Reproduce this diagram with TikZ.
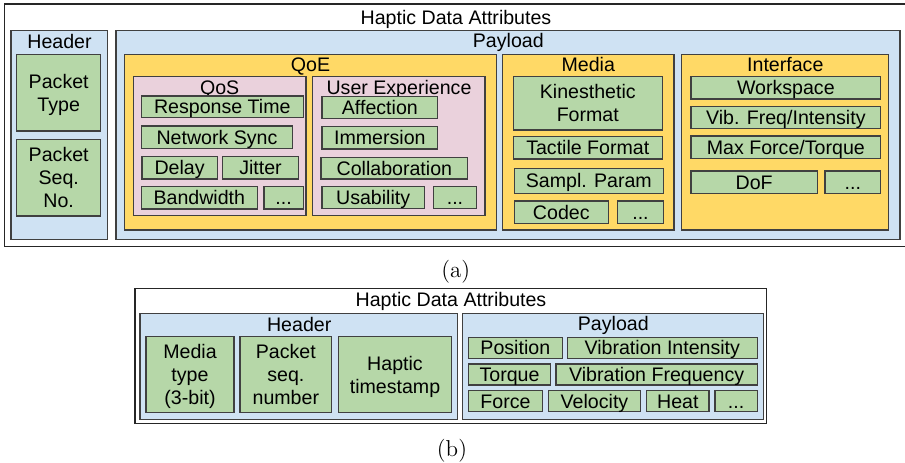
\documentclass[tikz,border=0pt]{standalone}
\usepackage{fontspec}
\newfontfamily\arialfont{Liberation Sans}
\definecolor{pktblue}{HTML}{CFE2F3}
\definecolor{grpyellow}{HTML}{FFD966}
\definecolor{subpink}{HTML}{EAD1DC}
\definecolor{itemgreen}{HTML}{B6D7A8}
\def\attrfont{\arialfont\fontsize{9.8pt}{11.5pt}\selectfont}

\begin{document}
\begin{tikzpicture}[x=0.5pt,y=-0.5pt,
    box/.style={draw=black!75,line width=0.6pt},
    outerbox/.style={draw=black!85,line width=0.6pt,fill=white},
    bluebox/.style={box,fill=pktblue},
    yelbox/.style={box,fill=grpyellow},
    pinkbox/.style={box,fill=subpink},
    item/.style={box,fill=itemgreen},
    % height = 7pt + (lines-1) x 11.5pt, so the caps block sits centred
    itemtext/.style={midway,font=\attrfont,align=center,text height=#1,text depth=0pt,inner sep=0pt},
    itemtext/.default=7pt,
    title/.style={font=\attrfont,anchor=base,inner sep=0pt},
    subcap/.style={font=\fontsize{11.5pt}{13pt}\selectfont,anchor=base,inner sep=0pt}]
    \useasboundingbox (0,0) rectangle (905,462);
    % (a) full attribute set
    \draw[outerbox] (4.5,4) rectangle (906,246.7);
    \node[title] (attrAtitle) at (456,24) {Haptic Data Attributes};
    \draw[bluebox] (11,30.7) rectangle (107.7,239.3);
    \node[title] (headerAtitle) at (59.5,48.3) {Header};
    \draw[item] (16.7,54.3) rectangle (100.7,131) node[itemtext=18.5pt] (ptype) {Packet\\Type};
    \draw[item] (16.7,139.3) rectangle (100.7,216) node[itemtext=30pt] (pseqA) {Packet\\Seq.\\No.};
    \draw[bluebox] (116,30.7) rectangle (900,239.3);
    \node[title] (payloadAtitle) at (508.3,47.5) {Payload};
    % QoE
    \draw[yelbox] (124.3,54.3) rectangle (496.7,230);
    \node[title] (qoetitle) at (310.5,71.3) {QoE};
    \draw[pinkbox] (133.3,76.7) rectangle (306,215.7);
    \node[title] (qostitle) at (219.7,94.3) {QoS};
    \draw[item] (141.3,96) rectangle (303.3,117.7) node[itemtext] (resptime) {Response Time};
    \draw[item] (141.3,126) rectangle (292.7,148.3) node[itemtext] (netsync) {Network Sync};
    \draw[item] (142,156.7) rectangle (217.3,179) node[itemtext] (delay) {Delay};
    \draw[item] (222.7,156.7) rectangle (298.3,179) node[itemtext] (jitter) {Jitter};
    \draw[item] (141.3,186.7) rectangle (257.3,209) node[itemtext] (bandwidth) {Bandwidth};
    \draw[item] (264,186.7) rectangle (303.3,209) node[itemtext] (qosmore) {...};
    \draw[pinkbox] (312.7,76.7) rectangle (485,215.7);
    \node[title] (uxtitle) at (399,94.3) {User Experience};
    \draw[item] (322,96.7) rectangle (437.7,118.3) node[itemtext] (affection) {Affection};
    \draw[item] (322,126.7) rectangle (437.7,149) node[itemtext] (immersion) {Immersion};
    \draw[item] (321,157.3) rectangle (467.7,179) node[itemtext] (collab) {Collaboration};
    \draw[item] (322,186.7) rectangle (424.3,208.3) node[itemtext] (usability) {Usability};
    \draw[item] (433.3,186.7) rectangle (476.7,208.3) node[itemtext] (uxmore) {...};
    % Media
    \draw[yelbox] (502.3,54.3) rectangle (674,230);
    \node[title] (mediatitle) at (588.3,71.3) {Media};
    \draw[item] (513.3,76.7) rectangle (662.3,130) node[itemtext=18.5pt] (kinfmt) {Kinesthetic\\Format};
    \draw[item] (513.3,136.7) rectangle (662.3,159) node[itemtext] (tacfmt) {Tactile Format};
    \draw[item] (514.3,168.3) rectangle (663.3,193.3) node[itemtext] (sampl) {Sampl. Param};
    \draw[item] (514.3,201) rectangle (608.3,223.3) node[itemtext] (codec) {Codec};
    \draw[item] (617.7,201) rectangle (663.3,223.3) node[itemtext] (mediamore) {...};
    % Interface
    \draw[yelbox] (681.3,54.3) rectangle (888.7,230);
    \node[title] (ifacetitle) at (785.3,71.3) {Interface};
    \draw[item] (691,76.7) rectangle (880.7,99) node[itemtext] (workspace) {Workspace};
    \draw[item] (691,106.7) rectangle (880.7,128.3) node[itemtext] (vibfreq) {Vib. Freq/Intensity};
    \draw[item] (691,136) rectangle (880.7,158.3) node[itemtext] (maxforce) {Max Force/Torque};
    \draw[item] (691,171) rectangle (817.3,193.3) node[itemtext] (dof) {DoF};
    \draw[item] (825,171) rectangle (880.7,193.3) node[itemtext] (ifacemore) {...};
    \node[subcap] (capA) at (455.8,277.5) {(a)};
    % (b) reduced attribute set
    \draw[outerbox] (135,288.3) rectangle (766.7,423.3);
    \node[title] (attrBtitle) at (451,306.7) {Haptic Data Attributes};
    \draw[bluebox] (140,313.3) rectangle (457.3,419.3);
    \node[title] (headerBtitle) at (299.2,331.7) {Header};
    \draw[item] (146,336.7) rectangle (234,412.3) node[itemtext=30pt] (mtype) {Media\\type\\(3-bit)};
    \draw[item] (240,336.7) rectangle (331.7,412.3) node[itemtext=30pt] (pseqB) {Packet\\seq.\\number};
    \draw[item] (338.3,336.7) rectangle (451.7,412.3) node[itemtext=18.5pt] (tstamp) {Haptic\\timestamp};
    \draw[bluebox] (462.7,313.3) rectangle (763.3,419.3);
    \node[title] (payloadBtitle) at (613.3,330) {Payload};
    \draw[item] (468.3,337.3) rectangle (562.3,358.3) node[itemtext] (position) {Position};
    \draw[item] (567.3,337.3) rectangle (757.3,358.3) node[itemtext] (vibint) {Vibration Intensity};
    \draw[item] (468.3,364) rectangle (550.7,385) node[itemtext] (torque) {Torque};
    \draw[item] (556,364) rectangle (757.3,385) node[itemtext] (vibfrq) {Vibration Frequency};
    \draw[item] (468.3,390.7) rectangle (542.7,411.7) node[itemtext] (force) {Force};
    \draw[item] (548.3,390.7) rectangle (640.7,411.7) node[itemtext] (velocity) {Velocity};
    \draw[item] (646.7,390.7) rectangle (709,411.7) node[itemtext] (heat) {Heat};
    \draw[item] (715,390.7) rectangle (757.3,411.7) node[itemtext] (paymore) {...};
    \node[subcap] (capB) at (452,456.5) {(b)};
\end{tikzpicture}
\end{document}
